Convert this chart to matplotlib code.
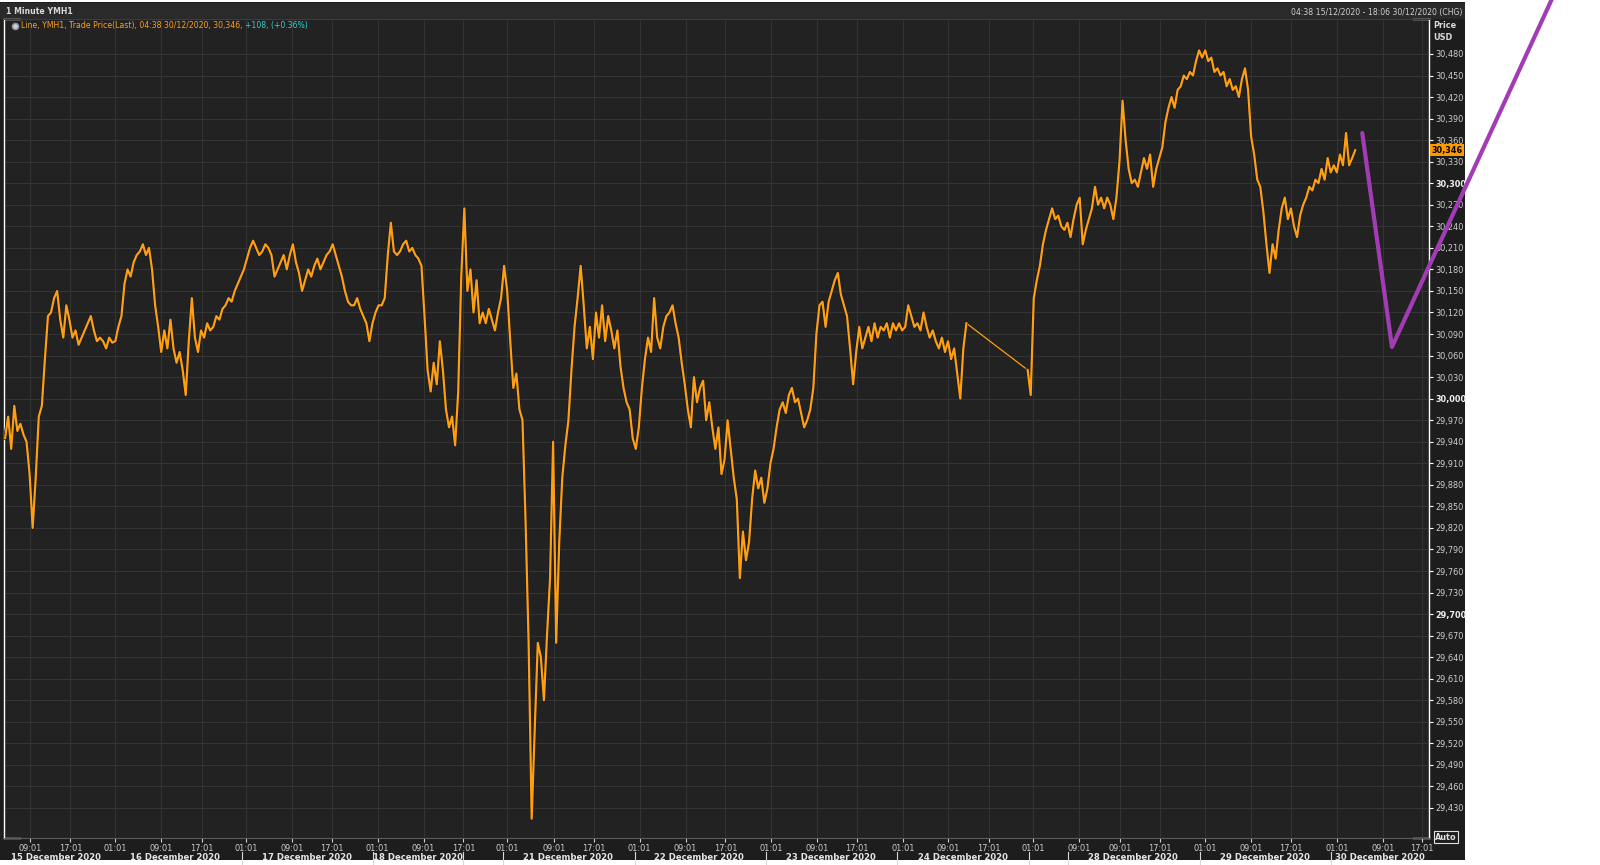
import numpy as np
import matplotlib
matplotlib.use("Agg")
import matplotlib.pyplot as plt
import matplotlib.patheffects as pe
from matplotlib.patches import Rectangle
from matplotlib.transforms import blended_transform_factory

# YMH1 trade price, one reading per ~30 min bar
price_before_xmas = [
    29945, 29975, 29930, 29990, 29955, 29965, 29950, 29940, 29895, 29820,
    29890, 29975, 29990, 30055, 30115, 30120, 30140, 30150, 30110, 30085,
    30130, 30110, 30085, 30095, 30075, 30085, 30095, 30105, 30115, 30095,
    30080, 30085, 30080, 30070, 30085, 30078, 30080, 30100, 30115, 30160,
    30180, 30170, 30190, 30200, 30205, 30215, 30200, 30210, 30180, 30130,
    30100, 30065, 30095, 30070, 30110, 30070, 30050, 30065, 30040, 30005,
    30080, 30140, 30085, 30065, 30095, 30085, 30105, 30095, 30100, 30115,
    30110, 30125, 30130, 30140, 30135, 30150, 30160, 30170, 30180, 30195,
    30210, 30220, 30210, 30200, 30205, 30215, 30210, 30200, 30170, 30180,
    30190, 30200, 30180, 30200, 30215, 30190, 30175, 30150, 30165, 30180,
    30170, 30185, 30195, 30180, 30190, 30200, 30205, 30215, 30200, 30185,
    30170, 30150, 30135, 30130, 30130, 30140, 30125, 30115, 30105, 30080,
    30105, 30120, 30130, 30130, 30140, 30200, 30245, 30205, 30200, 30205,
    30215, 30220, 30205, 30210, 30200, 30195, 30185, 30115, 30040, 30010,
    30050, 30020, 30080, 30040, 29985, 29960, 29975, 29935, 30010, 30170,
    30265, 30150, 30180, 30120, 30165, 30105, 30120, 30105, 30125, 30110,
    30095, 30120, 30140, 30185, 30150, 30080, 30015, 30035, 29985, 29970,
    29830, 29660, 29415, 29540, 29660, 29640, 29580, 29670, 29750, 29940,
    29660, 29800, 29890, 29935, 29970, 30040, 30100, 30140, 30185, 30130,
    30070, 30100, 30055, 30120, 30085, 30130, 30080, 30115, 30095, 30070,
    30095, 30045, 30015, 29995, 29985, 29945, 29930, 29960, 30015, 30055,
    30085, 30065, 30140, 30085, 30070, 30100, 30115, 30120, 30130, 30105,
    30085, 30050, 30020, 29985, 29960, 30030, 29995, 30015, 30025, 29970,
    29995, 29960, 29930, 29960, 29895, 29915, 29970, 29930, 29890, 29860,
    29750, 29815, 29775, 29800, 29860, 29900, 29875, 29890, 29855, 29875,
    29910, 29930, 29960, 29985, 29995, 29980, 30005, 30015, 29995, 30000,
    29980, 29960, 29970, 29985, 30015, 30090, 30130, 30135, 30100, 30135,
    30150, 30165, 30175, 30145, 30130, 30115, 30070, 30020, 30065, 30100,
    30070, 30085, 30100, 30080, 30105, 30085, 30100, 30095, 30105, 30085,
    30105, 30095, 30105, 30095, 30100, 30130, 30115, 30100, 30105, 30095,
    30120, 30100, 30085, 30095, 30080, 30070, 30085, 30065, 30080, 30055,
    30070, 30035, 30000, 30070, 30105,
]
price_after_xmas = [
    30040, 30005, 30140, 30165, 30185, 30215, 30235, 30250, 30265, 30250,
    30255, 30240, 30235, 30245, 30225, 30250, 30270, 30280, 30215, 30235,
    30250, 30265, 30295, 30270, 30280, 30265, 30280, 30270, 30250, 30280,
    30330, 30415, 30360, 30320, 30300, 30305, 30295, 30315, 30335, 30320,
    30340, 30295, 30320, 30335, 30350, 30385, 30405, 30420, 30405, 30430,
    30435, 30450, 30445, 30455, 30450, 30470, 30485, 30475, 30485, 30470,
    30475, 30455, 30460, 30450, 30455, 30435, 30445, 30430, 30435, 30420,
    30445, 30460, 30430, 30365, 30340, 30305, 30295, 30260, 30215, 30175,
    30215, 30195, 30235, 30265, 30280, 30250, 30265, 30240, 30225, 30255,
    30270, 30280, 30295, 30290, 30305, 30300, 30320, 30305, 30335, 30315,
    30325, 30315, 30340, 30325, 30370, 30325, 30335, 30346,
]
resume_bar = 334  # bar index where trading picks up after Christmas
last_price = 30346

# x axis labels (bar positions)
time_ticks = [8.2, 21.3, 36.0, 51.0, 64.3, 78.7, 93.7, 106.7, 121.7, 136.7,
              149.7, 164.0, 179.3, 192.3, 207.3, 222.3, 235.3, 250.3, 265.3,
              278.3, 293.3, 308.0, 321.3, 335.7, 350.7, 364.3, 377.3, 392.0,
              407.0, 420.0, 435.0, 450.0, 462.7]
time_labels = ["09:01", "17:01", "01:01"] * 8 + ["09:01", "09:01", "17:01",
               "01:01", "09:01", "17:01", "01:01", "09:01", "17:01"]
date_pos = [16.6, 55.5, 98.6, 134.9, 183.9, 226.7, 269.8, 312.9, 368.5, 411.6, 449.1]
date_labels = ["15 December 2020", "16 December 2020", "17 December 2020",
               "18 December 2020", "21 December 2020", "22 December 2020",
               "23 December 2020", "24 December 2020", "28 December 2020",
               "29 December 2020", "30 December 2020"]
day_breaks = [77.4, 120.2, 149.6, 162.6, 205.8, 248.6, 291.3, 334.5, 347.2, 390.3, 433.1]
price_ticks = np.arange(29430, 30481, 30)

# hand-drawn purple pen stroke on top of the screenshot
pen_x = [443.3, 453.0, 506.7]
pen_y = [30370, 30072, 30570]

W, H = 1600, 865
fig = plt.figure(figsize=(W / 100, H / 100), dpi=100, facecolor="white")

# dark panel and header strip
fig.add_artist(Rectangle((0, 5 / H), 1465 / W, 858 / H, transform=fig.transFigure,
                         facecolor="#1d1d1d", edgecolor="none", zorder=0))
fig.add_artist(Rectangle((0, 1 - 19 / H), 1465 / W, 16 / H, transform=fig.transFigure,
                         facecolor="#2a2a2a", edgecolor="none", zorder=0))

ax = fig.add_axes([4 / W, 1 - 838 / H, 1425 / W, 819 / H])
ax.set_facecolor("#222222")

x1 = np.arange(len(price_before_xmas))
x2 = resume_bar + np.arange(len(price_after_xmas))
shadow = [pe.Stroke(linewidth=2.6, foreground="#121826"), pe.Normal()]
ax.plot(x1, price_before_xmas, color="#ff9e0f", lw=1.6, zorder=3, path_effects=shadow)
ax.plot(x2, price_after_xmas, color="#ff9e0f", lw=1.6, zorder=3, path_effects=shadow)
# thin joining line across the holiday gap
ax.plot([x1[-1], x2[0]], [price_before_xmas[-1], price_after_xmas[0]],
        color="#ff9e0f", lw=0.9, zorder=2)

ax.set_xlim(-0.36, 465.1)
ax.set_ylim(29388.2, 30528.7)

ax.set_xticks(time_ticks, labels=time_labels)
ax.set_yticks(price_ticks, labels=[f"{v:,}" for v in price_ticks])
ax.yaxis.tick_right()
ax.tick_params(axis="y", length=3, width=0.8, color="white", pad=1.5,
               labelsize=5.9, labelcolor="#cfcfcf")
ax.tick_params(axis="x", length=3, width=0.8, color="#d0d0d0", pad=1.5,
               labelsize=5.9, labelcolor="#cfcfcf")
for lbl, v in zip(ax.get_yticklabels(), price_ticks):
    if v % 300 == 0:
        lbl.set_fontweight("bold")
        lbl.set_color("#f0f0f0")
ax.grid(True, color="#343434", lw=0.8)
ax.set_axisbelow(True)

for side in ["left", "right"]:
    ax.spines[side].set_color("white")
    ax.spines[side].set_linewidth(1)
ax.spines["top"].set_color("#3c3c3c")
ax.spines["bottom"].set_color("#5a5a5a")

# white corner brackets
br = 0.0112
for xa, ya in [((0, br), 1), ((0, br), 0), ((1 - br, 1), 1), ((1 - br, 1), 0)]:
    ax.plot(xa, [ya, ya], color="white", lw=1, transform=ax.transAxes, clip_on=False)

# date row
bt = blended_transform_factory(ax.transData, ax.transAxes)
for p, d in zip(date_pos, date_labels):
    ax.text(p, -0.0244, d, transform=bt, ha="center", va="center", fontsize=6.1,
            fontweight="bold", color="#e4e4e4")
for p in day_breaks:
    ax.plot([p, p], [-0.0171, -0.0317], transform=bt, color="#d8d8d8", lw=0.8,
            clip_on=False)

# legend line
ax.plot([0.0075], [0.9915], marker="o", ms=4.5, color="#c8ccd4", mec="#8a8f99",
        transform=ax.transAxes, clip_on=False, zorder=5)
t1 = ax.text(0.0119, 0.9915, "Line, YMH1, Trade Price(Last), 04:38 30/12/2020, 30,346, ",
             transform=ax.transAxes, fontsize=5.6, color="#ff9c1a", va="center", ha="left")
ax.annotate("+108, (+0.36%)", xy=(1, 0.5), xycoords=t1, fontsize=5.6, color="#2fd0d0",
            va="center", ha="left")

# current price tag
pt = blended_transform_factory(ax.transAxes, ax.transData)
ax.text(1.0016, last_price, f"{last_price:,}", transform=pt, ha="left", va="center",
        fontsize=5.9, fontweight="bold", color="black", zorder=6,
        bbox=dict(boxstyle="square,pad=0.18", fc="#ff9900", ec="none"))

# header texts
fig.text(6 / W, 1 - 11 / H, "1 Minute YMH1", fontsize=5.6, fontweight="bold",
         color="#d8d8d8", va="center")
fig.text(1462 / W, 1 - 12 / H, "04:38 15/12/2020 - 18:06 30/12/2020 (CHG)",
         fontsize=5.6, color="#cfcfcf", va="center", ha="right")
fig.text(1433 / W, 1 - 25 / H, "Price", fontsize=5.9, fontweight="bold",
         color="#d8d8d8", va="center")
fig.text(1433 / W, 1 - 38 / H, "USD", fontsize=5.9, fontweight="bold",
         color="#d8d8d8", va="center")
fig.text(1435 / W, 1 - 837 / H, "Auto", fontsize=5.9, fontweight="bold",
         color="#e0e0e0", va="center",
         bbox=dict(boxstyle="square,pad=0.15", fc="none", ec="#e0e0e0", lw=0.8))

# purple pen stroke
ax.plot(pen_x, pen_y, color="#a23cb5", lw=3, solid_capstyle="round",
        solid_joinstyle="round", clip_on=False, zorder=10)

fig.savefig("out.png", dpi=100, facecolor="white")
